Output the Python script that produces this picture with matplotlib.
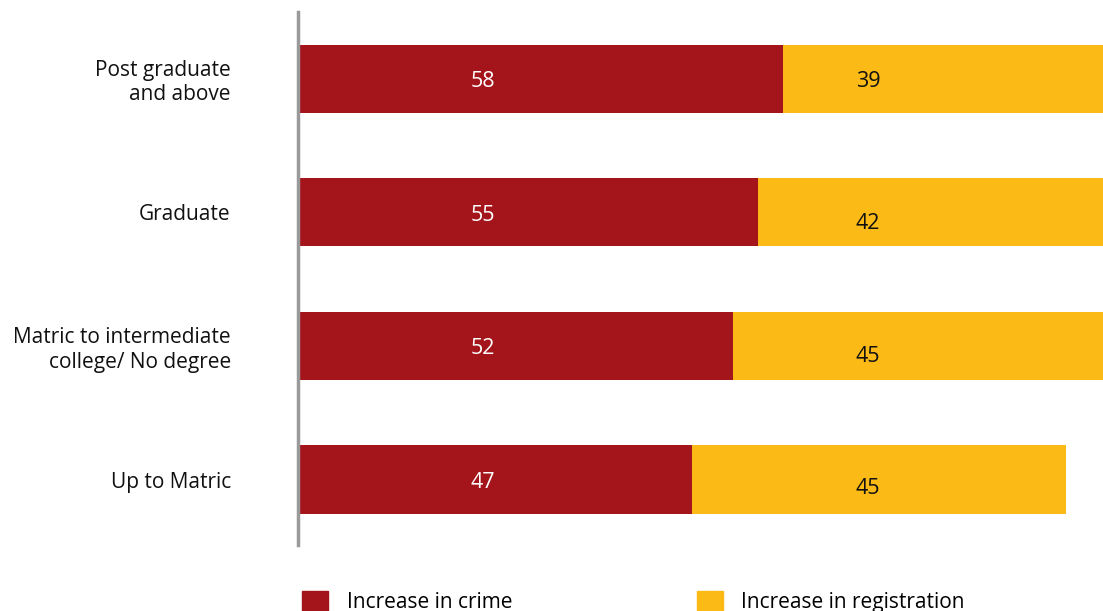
import matplotlib.pyplot as plt
from matplotlib.patches import Patch

plt.rcParams['font.family'] = ['Open Sans', 'DejaVu Sans']

# data
categories = ['Up to Matric', 'Matric to intermediate\ncollege/ No degree', 'Graduate', 'Post graduate\nand above']
crime = [47, 52, 55, 58]
registration = [45, 45, 42, 39]
# label nudges as in the source (yellow labels sit a bit low)
reg_offset = [-0.05, -0.06, -0.06, 0.0]

RED = '#A3151A'
YELLOW = '#FBBA16'

fig = plt.figure(figsize=(11.03, 6.11), dpi=100)
ax = fig.add_axes([300/1103, 1-545/611, 1-300/1103, (545-12)/611])

ypos = list(range(len(categories)))
ax.barh(ypos, crime, height=0.51, color=RED)
ax.barh(ypos, registration, left=crime, height=0.51, color=YELLOW)

for i in ypos:
    ax.text(22, i - 0.02, str(crime[i]), color='white', ha='center', va='center', fontsize=15.5)
    ax.text(68.2, i - 0.02 + reg_offset[i], str(registration[i]), color='#111111', ha='center', va='center', fontsize=15.5)

ax.set_xlim(0, 96.4)
ax.set_ylim(-0.49, 3.5)
ax.tick_params(axis='y', length=0, pad=48, labelsize=15, labelcolor='#111111')
ax.set_yticks(ypos)
ax.set_yticklabels(categories, linespacing=1.2)
ax.set_xticks([])
for s in ['top', 'right', 'bottom']:
    ax.spines[s].set_visible(False)
ax.spines['left'].set_color('#9a9a9a')
ax.spines['left'].set_linewidth(2.5)
ax.spines['left'].set_position(('data', -0.3))

handles = [Patch(color=RED, label='Increase in crime'), Patch(color=YELLOW, label='Increase in registration')]
fig.legend(handles=handles, loc='lower left', bbox_to_anchor=(302/1103, -2/611), ncol=2,
           frameon=False, fontsize=15, borderpad=0, borderaxespad=0,
           handlelength=1.25, handleheight=1.15, handletextpad=0.9, columnspacing=8.85)

fig.savefig('out.png', dpi=100)
